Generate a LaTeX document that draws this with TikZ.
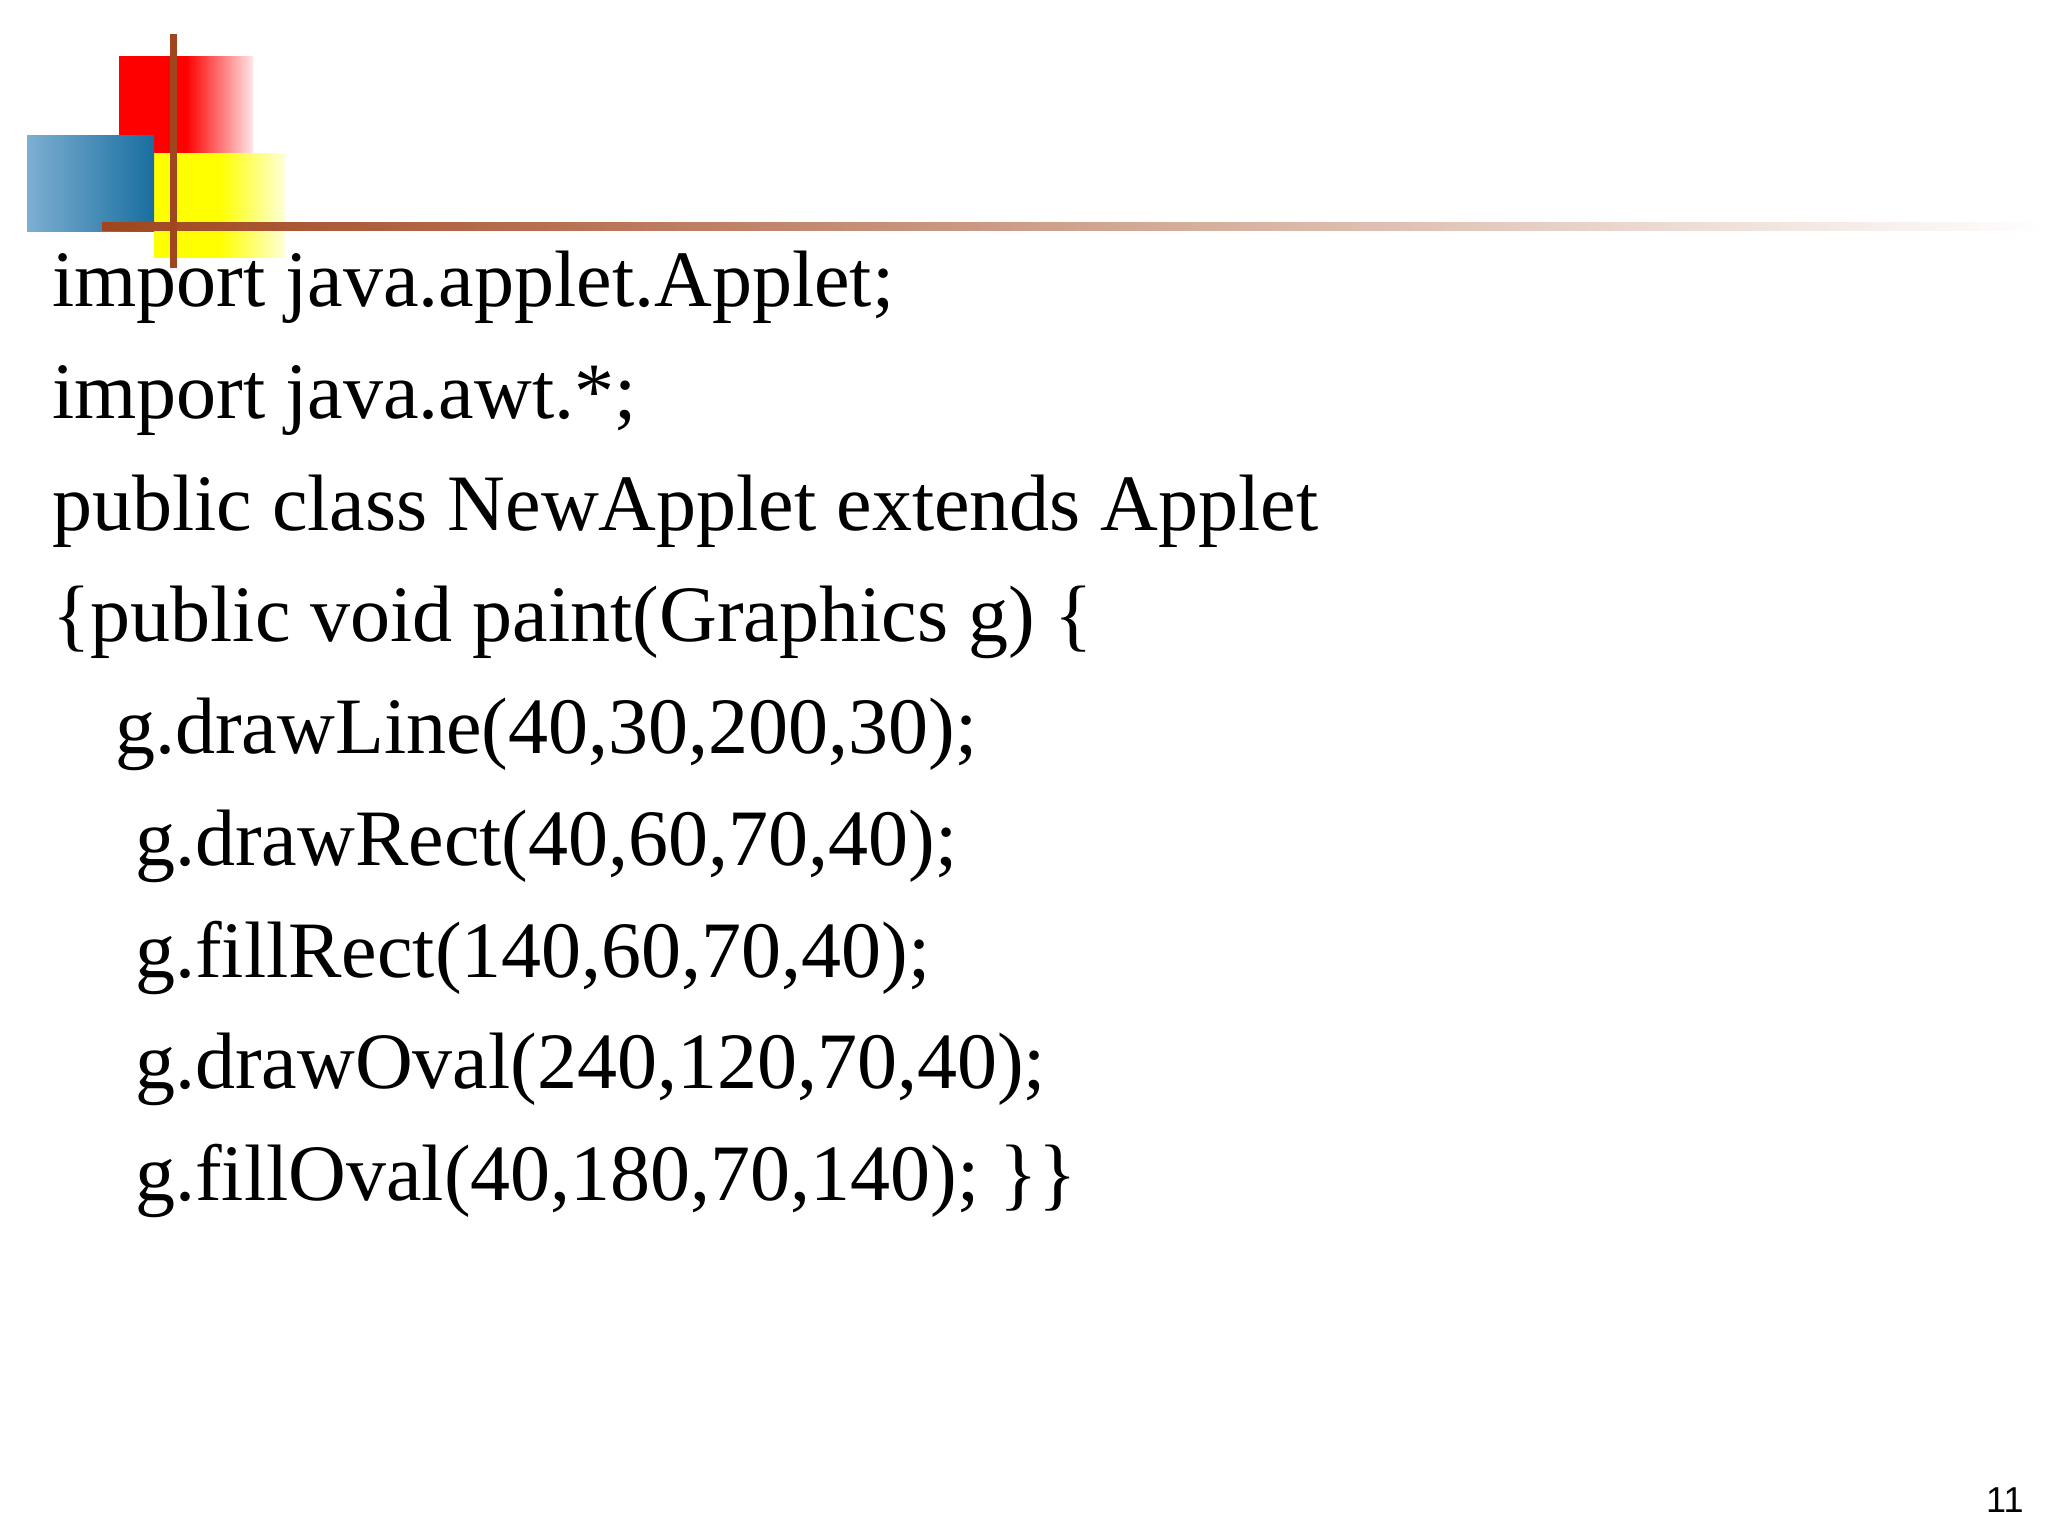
\documentclass[tikz,border=0pt]{standalone}
\usepackage{fontspec}
\setmainfont{Liberation Serif}
\newfontfamily\numfont{Liberation Sans}
\definecolor{bldark}{RGB}{25,110,160}
\definecolor{bllight}{RGB}{125,175,210}
\definecolor{brn}{RGB}{160,70,30}
\begin{document}
\begin{tikzpicture}[x=1pt,y=-1pt,
  code/.style={anchor=base west,inner sep=0pt,font=\fontsize{80}{88}\selectfont}]
\useasboundingbox[fill=white] (0,0) rectangle (2048,1536);
\shade[left color=red,right color=red!10,middle color=red] (119,57) rectangle (253,154);
\shade[left color=yellow,right color=yellow!15,middle color=yellow] (154,154) rectangle (285,257);
\shade[left color=bllight,right color=bldark] (27,136) rectangle (154,231);
\shade[left color=brn,right color=white] (102,222) rectangle (2048,230);
\fill[brn] (170,34) rectangle (177,268);
\node[code] (l1) at (52,306) {import java.applet.Applet;};
\node[code] (l2) at (52,418) {import java.awt.*;};
\node[code] (l3) at (52,530) {public class NewApplet extends Applet};
\node[code] (l4) at (52,641) {\{public void paint(Graphics g) \{};
\node[code] (l5) at (115,753) {g.drawLine(40,30,200,30);};
\node[code] (l6) at (135,865) {g.drawRect(40,60,70,40);};
\node[code] (l7) at (135,977) {g.fillRect(140,60,70,40);};
\node[code] (l8) at (135,1088) {g.drawOval(240,120,70,40);};
\node[code] (l9) at (135,1200) {g.fillOval(40,180,70,140); \}\}};
\node[anchor=base west,inner sep=0pt,font=\numfont\fontsize{36}{40}\selectfont] (pg) at (1986,1512) {11};
\end{tikzpicture}
\end{document}
